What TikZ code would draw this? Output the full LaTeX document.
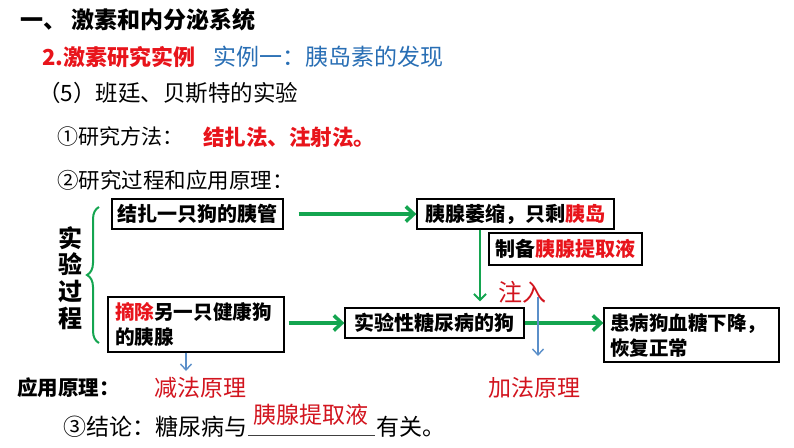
\documentclass[tikz,border=0pt]{standalone}
\usepackage{fontspec}
\setmainfont{Noto Sans CJK SC}
\usetikzlibrary{arrows.meta,decorations.pathreplacing}
\definecolor{myred}{RGB}{232,20,27}
\definecolor{dred}{RGB}{210,20,30}
\definecolor{myblue}{RGB}{40,110,180}
\definecolor{mygreen}{RGB}{20,165,80}
\definecolor{lblue}{RGB}{91,143,201}
\newcommand{\fsz}[1]{\fontsize{#1}{#1}\selectfont}
\tikzset{
  txt/.style={inner sep=0pt, anchor=west},
  boxnode/.style={draw=black, line width=1.3pt, inner sep=0pt, font=\fsz{20}\bfseries},
  garrow/.style={draw=mygreen, line width=3.5pt, -{Straight Barb[length=8pt,width=15pt]}},
  garrowthin/.style={draw=mygreen, line width=2pt, -{Straight Barb[length=6pt,width=12pt]}},
  barrow/.style={draw=lblue, line width=1.4pt, -{Straight Barb[length=6pt,width=11pt]}}
}
\begin{document}
\begin{tikzpicture}[x=1pt,y=-1pt]
\useasboundingbox (0,0) rectangle (794,447);
% header texts
\node[txt, font=\fsz{23}\bfseries] (title) at (20,20) {一、 激素和内分泌系统};
\node[txt, font=\fsz{22}\bfseries, text=myred] (sub) at (42,57) {2.激素研究实例};
\node[txt, font=\fsz{23}, text=myblue] (ex) at (213,57) {实例一：胰岛素的发现};
\node[txt, font=\fsz{22.5}] (five) at (38,93) {（5）班廷、贝斯特的实验};
\node[txt, font=\fsz{21}] (m1) at (57,137) {①研究方法：};
\node[txt, font=\fsz{21.5}\bfseries, text=myred] (m1a) at (203,137) {结扎法、注射法。};
\node[txt, font=\fsz{21.5}] (m2) at (57,180) {②研究过程和应用原理：};
% vertical label and brace
\node[inner sep=0pt, align=center, font=\fontsize{24}{26.7}\selectfont\bfseries] (proc) at (70,278) {实\\验\\过\\程};
\coordinate (brb) at (99,343);
\coordinate (brt) at (99,207);
\draw[mygreen, line width=2pt, decorate, decoration={brace, amplitude=12pt}] (brb) -- (brt);
% boxes
\node[boxnode, minimum width=171pt, minimum height=30pt] (b1) at (197.5,214) {结扎一只狗的胰管};
\node[boxnode, minimum width=197pt, minimum height=30pt] (b2) at (515.5,214) {胰腺萎缩，只剩\textcolor{myred}{胰岛}};
\node[boxnode, minimum width=153pt, minimum height=32pt] (b3) at (565.5,249) {制备\textcolor{myred}{胰腺提取液}};
\node[boxnode, minimum width=179pt, minimum height=30pt] (b4) at (434.5,323) {实验性糖尿病的狗};
\node[boxnode, inner xsep=7pt, text width=162pt, minimum height=55pt, align=left, font=\fontsize{19.6}{25}\selectfont\bfseries] (b5) at (196,324.5) {\textcolor{myred}{摘除}另一只健康狗\\的胰腺};
\node[boxnode, inner xsep=6pt, text width=163pt, minimum height=54pt, align=left, font=\fontsize{19.5}{25}\selectfont\bfseries] (b6) at (691.5,335) {患病狗血糖下降，\\恢复正常};
% green arrows
\draw[garrow, shorten <=15pt] (b1.east) -- (b2.west);
\coordinate (vx) at (480,0);
\draw[garrowthin, shorten >=6pt] (b2.south -| vx) -- (b4.north -| vx);
\draw[garrow, shorten <=4pt] (b4.west -| b5.east) -- (b4.west);
\draw[garrow] (b4.east) -- (b6.west |- b4.east);
% blue arrows and labels
\node[inner sep=0pt, font=\fsz{24}, text=dred] (inj) at (522,292) {注入};
\coordinate (bl1s) at (538,297);
\coordinate (bl1e) at (538,356);
\draw[barrow] (bl1s) -- (bl1e);
\coordinate (bx) at (186,0);
\coordinate (bl2e) at (186,371);
\draw[barrow] (b5.south -| bx) -- (bl2e);
\node[txt, font=\fsz{20.5}\bfseries] (app) at (17,388) {应用原理：};
\node[txt, font=\fsz{23}, text=dred] (sub1) at (154,388) {减法原理};
\node[txt, font=\fsz{23}, text=dred] (add1) at (488,388) {加法原理};
% conclusion
\node[txt, font=\fsz{23}] (c3) at (63,427) {③结论：糖尿病与};
\coordinate (ul1) at (248,435);
\coordinate (ul2) at (375,435);
\draw[black!75, line width=1pt] (ul1) -- (ul2);
\node[inner sep=0pt, font=\fsz{23}, text=dred] (ans) at (310.5,415) {胰腺提取液};
\node[txt, font=\fsz{23}] (rel) at (376,427) {有关。};
\end{tikzpicture}
\end{document}
